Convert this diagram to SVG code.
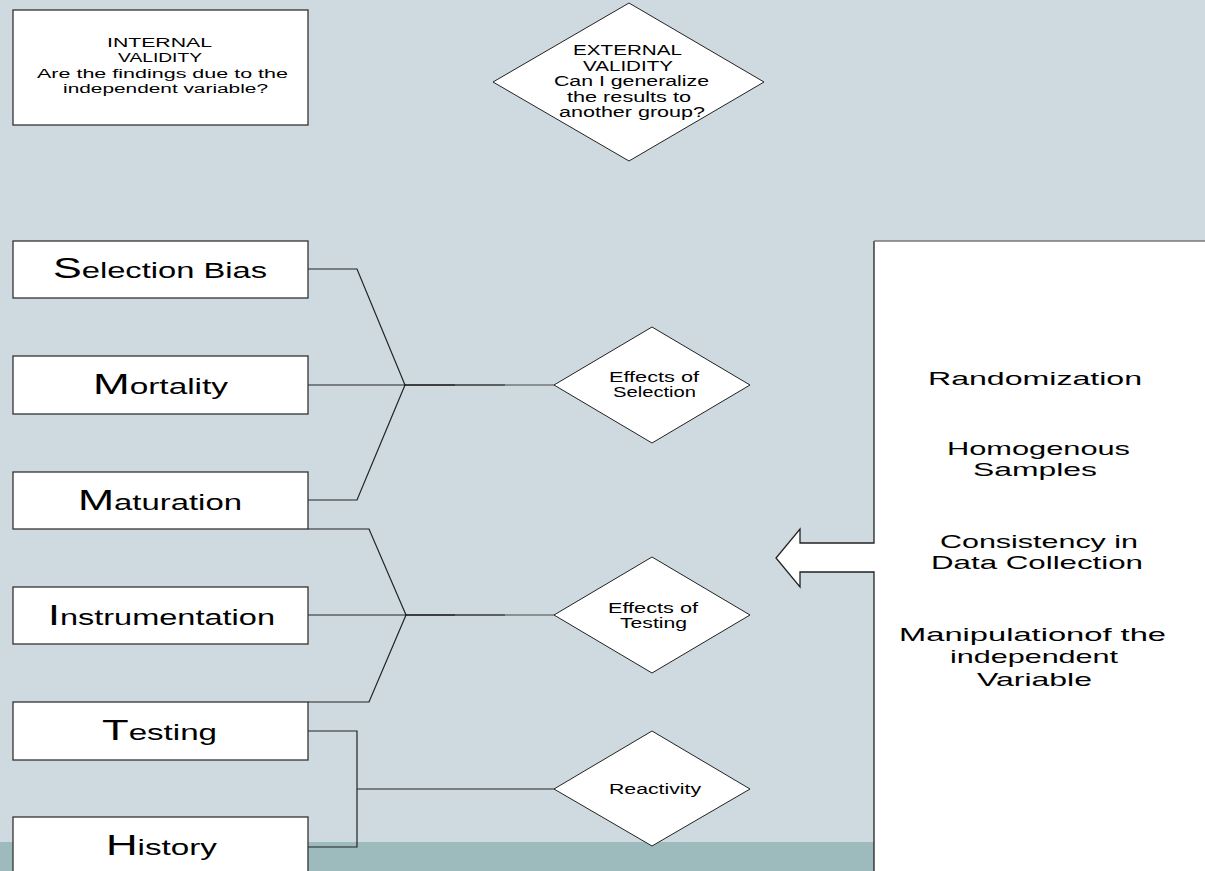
<svg xmlns="http://www.w3.org/2000/svg" width="1205" height="871" viewBox="0 0 1205 871">
<style>
  .bg { fill: #CFDAE0; }
  .band { fill: #9DBBBD; }
  .box { fill: #FFFFFF; stroke: #333333; stroke-width: 1.3; }
  .dia { fill: #FFFFFF; stroke: #222222; stroke-width: 1; }
  .t { font-family: "Liberation Sans", Arial, sans-serif; fill: #000000; }
  .lbl { font-size: 22px; }
  .ini { font-size: 29px; }
  .sm { font-size: 12px; }
  .md { font-size: 14px; }
  .rp { font-size: 18.5px; }
  .con { fill: none; stroke: #222222; stroke-width: 1.2; }
  .stem { fill: none; stroke: #000000; stroke-width: 1.3; stroke-opacity: 0.45; }
</style>
<rect class="bg" x="0" y="0" width="1205" height="871"/>
<rect class="band" x="0" y="842" width="1205" height="29"/>

<g id="connectors">
  <path class="con" d="M308,269 H357 L405,385 M308,385 H405 M308,500 H357 L405,385"/>
  <line class="stem" x1="405" y1="385" x2="455" y2="385"/>
  <line class="stem" x1="405" y1="385" x2="505" y2="385"/>
  <line class="stem" x1="405" y1="385" x2="555" y2="385"/>
  <path class="con" d="M308,529 H369 L406,615 M308,615 H406 M308,702 H369 L406,615"/>
  <line class="stem" x1="406" y1="615" x2="455" y2="615"/>
  <line class="stem" x1="406" y1="615" x2="505" y2="615"/>
  <line class="stem" x1="406" y1="615" x2="555" y2="615"/>
  <path class="con" d="M308,731 H357 V847 H308 M357,789 H555"/>
</g>

<g id="internal-validity">
  <rect class="box" x="13" y="10" width="295" height="115"/>
  <text class="t sm" x="107" y="47" textLength="105" lengthAdjust="spacingAndGlyphs">INTERNAL</text>
  <text class="t sm" x="118" y="62" textLength="84" lengthAdjust="spacingAndGlyphs">VALIDITY</text>
  <text class="t sm" x="37" y="77.5" textLength="251" lengthAdjust="spacingAndGlyphs">Are the findings due to the</text>
  <text class="t sm" x="63" y="93" textLength="205" lengthAdjust="spacingAndGlyphs">independent variable?</text>
</g>

<g id="external-validity">
  <polygon class="dia" points="629,3 764,82 629,161 493,82"/>
  <text class="t md" x="573" y="55" textLength="109" lengthAdjust="spacingAndGlyphs">EXTERNAL</text>
  <text class="t md" x="583" y="71" textLength="90" lengthAdjust="spacingAndGlyphs">VALIDITY</text>
  <text class="t md" x="554" y="86" textLength="155" lengthAdjust="spacingAndGlyphs">Can I generalize</text>
  <text class="t md" x="567" y="102" textLength="124" lengthAdjust="spacingAndGlyphs">the results to</text>
  <text class="t md" x="559" y="117" textLength="146" lengthAdjust="spacingAndGlyphs">another group?</text>
</g>

<g id="selection-bias">
  <rect class="box" x="13" y="241" width="295" height="57"/>
  <text class="t lbl" x="53" y="278" textLength="214" lengthAdjust="spacingAndGlyphs"><tspan class="ini">S</tspan>election Bias</text>
</g>
<g id="mortality">
  <rect class="box" x="13" y="356" width="295" height="58"/>
  <text class="t lbl" x="93" y="394" textLength="135" lengthAdjust="spacingAndGlyphs"><tspan class="ini">M</tspan>ortality</text>
</g>
<g id="maturation">
  <rect class="box" x="13" y="472" width="295" height="57"/>
  <text class="t lbl" x="78" y="510" textLength="164" lengthAdjust="spacingAndGlyphs"><tspan class="ini">M</tspan>aturation</text>
</g>
<g id="instrumentation">
  <rect class="box" x="13" y="587" width="295" height="57"/>
  <text class="t lbl" x="48" y="625" textLength="227" lengthAdjust="spacingAndGlyphs"><tspan class="ini">I</tspan>nstrumentation</text>
</g>
<g id="testing">
  <rect class="box" x="13" y="702" width="295" height="58"/>
  <text class="t lbl" x="102" y="740" textLength="115" lengthAdjust="spacingAndGlyphs"><tspan class="ini">T</tspan>esting</text>
</g>
<g id="history">
  <rect class="box" x="13" y="817" width="295" height="70"/>
  <text class="t lbl" x="106" y="855" textLength="111" lengthAdjust="spacingAndGlyphs"><tspan class="ini">H</tspan>istory</text>
</g>

<g id="effects-of-selection">
  <polygon class="dia" points="652,327 750,385 652,443 554,385"/>
  <text class="t md" x="609" y="382" textLength="90" lengthAdjust="spacingAndGlyphs">Effects of</text>
  <text class="t md" x="613" y="397" textLength="83" lengthAdjust="spacingAndGlyphs">Selection</text>
</g>
<g id="effects-of-testing">
  <polygon class="dia" points="652,557 750,615 652,673 554,615"/>
  <text class="t md" x="608" y="613" textLength="90" lengthAdjust="spacingAndGlyphs">Effects of</text>
  <text class="t md" x="620" y="628" textLength="67" lengthAdjust="spacingAndGlyphs">Testing</text>
</g>
<g id="reactivity">
  <polygon class="dia" points="652,731 750,789 652,846 554,789"/>
  <text class="t md" x="609" y="794" textLength="92" lengthAdjust="spacingAndGlyphs">Reactivity</text>
</g>

<g id="controls-panel">
  <rect x="874" y="241" width="340" height="640" fill="#FFFFFF"/>
  <polygon points="874,543 800,543 800,529 776,558 800,587 800,572 874,572" fill="#FFFFFF"/>
  <path d="M874,880 V572 H800 V587 L776,558 L800,529 V543 H874 V241" fill="none" stroke="#222222" stroke-width="1.3"/>
  <path d="M874,241 H1210" fill="none" stroke="#777777" stroke-width="1.3"/>
  <text class="t rp" x="928" y="385" textLength="214" lengthAdjust="spacingAndGlyphs">Randomization</text>
  <text class="t rp" x="947" y="455" textLength="183" lengthAdjust="spacingAndGlyphs">Homogenous</text>
  <text class="t rp" x="973" y="476" textLength="124" lengthAdjust="spacingAndGlyphs">Samples</text>
  <text class="t rp" x="940" y="548" textLength="198" lengthAdjust="spacingAndGlyphs">Consistency in</text>
  <text class="t rp" x="931" y="569" textLength="212" lengthAdjust="spacingAndGlyphs">Data Collection</text>
  <text class="t rp" x="899" y="641" textLength="267" lengthAdjust="spacingAndGlyphs">Manipulationof the</text>
  <text class="t rp" x="950" y="663" textLength="168" lengthAdjust="spacingAndGlyphs">independent</text>
  <text class="t rp" x="977" y="686" textLength="115" lengthAdjust="spacingAndGlyphs">Variable</text>
</g>
</svg>
